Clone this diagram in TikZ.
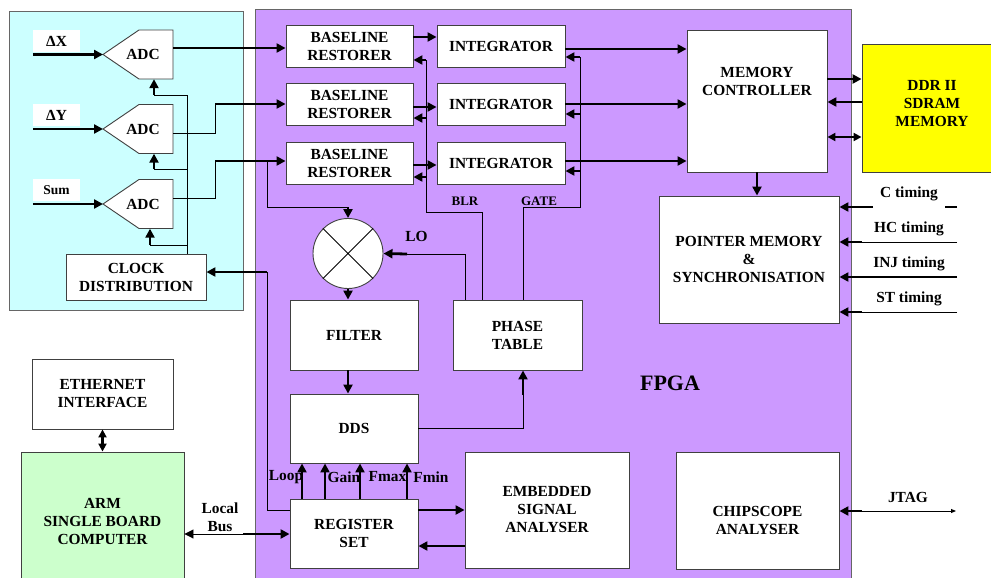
\documentclass[tikz,border=0pt]{standalone}
\usepackage{fontspec}
\setmainfont{Liberation Serif}
\usetikzlibrary{arrows.meta,calc}
\definecolor{cyanbg}{RGB}{204,255,255}
\definecolor{fpgabg}{RGB}{204,153,255}
\definecolor{armbg}{RGB}{204,255,204}
\definecolor{ddrbg}{RGB}{255,255,0}
\begin{document}
\begin{tikzpicture}[x=1pt,y=-1pt,
  bf/.style={font=\bfseries\fontsize{15.4}{18}\selectfont},
  sm/.style={font=\bfseries\fontsize{13}{15}\selectfont,inner sep=0pt},
  blk/.style={bf,draw=black!75,line width=0.9pt,fill=white,align=center,inner sep=0pt},
  txt/.style={bf,align=center,inner sep=0pt},
  thk/.style={line width=2.8pt},
  thn/.style={line width=0.9pt},
  tip/.style={-{Triangle[length=9pt,width=9pt]}},
  tipr/.style={{Triangle[length=9pt,width=9pt]}-},
  tipb/.style={{Triangle[length=8pt,width=8pt]}-{Triangle[length=8pt,width=8pt]}},
]
\useasboundingbox (0,0) rectangle (991,578);

% panels
\draw[fill=cyanbg,draw=black!60,line width=0.9pt] (9,11) rectangle (243,310);
\draw[fill=fpgabg,draw=black!60,line width=0.9pt] (255,9) rectangle (851,600);

% ADCs
\foreach \n/\y in {1/54.5,2/129,3/204}{
  \draw[fill=white,draw=black!75,line width=0.9pt] (103,\y) -- (139,\y-24.5) -- (173,\y-24.5) -- (173,\y+24.5) -- (139,\y+24.5) -- cycle;
  \node[txt,minimum width=60,minimum height=49] (adc\n) at (143,\y) {ADC};
  \coordinate (tip\n) at (103,\y);
}

% input labels
\node[txt,fill=white,minimum width=47,minimum height=22] (inX) at (56.5,41) {ΔX};
\node[txt,fill=white,minimum width=47,minimum height=22] (inY) at (56.5,115) {ΔY};
\node[txt,fill=white,minimum width=47,minimum height=22,font=\bfseries\fontsize{13.5}{15}\selectfont] (inS) at (56.5,190) {Sum};
\draw[thk,tip] (inX.south west |- tip1) -- (tip1);
\draw[thk,tip] (inY.south west |- tip2) -- (tip2);
\draw[thk,tip] (inS.south west |- tip3) -- (tip3);

% blocks
\node[blk,minimum width=140,minimum height=46] (clk) at (136,277) {CLOCK\\DISTRIBUTION};
\foreach \n/\y in {1/46,2/104,3/163}{
  \node[blk,minimum width=127,minimum height=42] (br\n) at (349.5,\y) {BASELINE\\RESTORER};
  \node[blk,minimum width=128,minimum height=42] (int\n) at (501,\y) {INTEGRATOR};
}
\node[blk,minimum width=140,minimum height=142] (mc) at (757,101) {};
\node[txt] (mct) at (757,81) {MEMORY\\CONTROLLER};
\node[draw=black!75,line width=0.9pt,fill=ddrbg,minimum width=140,minimum height=128,inner sep=0pt] (ddr) at (932,108) {};
\node[txt] (ddrt) at (932,104) {DDR II\\SDRAM\\MEMORY};
\node[blk,minimum width=180,minimum height=127] (pm) at (749,259.5) {POINTER MEMORY\\\&\\SYNCHRONISATION};
\node[draw=black!75,line width=0.9pt,fill=white,circle,minimum size=70,inner sep=0pt] (mix) at (348,253.5) {};
\draw[thn] (mix.north west) -- (mix.south east) (mix.north east) -- (mix.south west);
\node[blk,minimum width=128,minimum height=70] (flt) at (354,335) {FILTER};
\node[blk,minimum width=129,minimum height=70] (pt) at (517.5,335) {PHASE\\TABLE};
\node[blk,minimum width=128,minimum height=69] (dds) at (354,428.5) {DDS};
\node[blk,minimum width=128,minimum height=69] (reg) at (354,533.5) {REGISTER\\SET};
\node[blk,minimum width=164,minimum height=116] (emb) at (547,510) {EMBEDDED\\SIGNAL\\ANALYSER};
\node[blk,minimum width=163,minimum height=117] (cs) at (757.5,510.5) {};
\node[txt] (cst) at (757.5,520) {CHIPSCOPE\\ANALYSER};
\node[blk,minimum width=141,minimum height=70] (eth) at (102.5,394) {ETHERNET\\INTERFACE};
\node[blk,fill=armbg,minimum width=163,minimum height=138] (arm) at (102.5,521) {ARM\\SINGLE BOARD\\COMPUTER};
\node[txt,font=\bfseries\fontsize{22}{26}\selectfont] (fpga) at (670,383) {FPGA};

% clock distribution lines
\coordinate (cb) at (187,95);
\coordinate (c1) at (154,95);
\coordinate (c2) at (154,169);
\coordinate (c3) at (150,245);
\draw[thn] (clk.north -| cb) -- (cb) -- (c1);
\draw[thn] (c2 -| cb) -- (c2);
\draw[thn] (c3 -| cb) -- (c3);
\draw[thk,tip] (c1) -- (c1 |- adc1.south);
\draw[thk,tip] (c2) -- (c2 |- adc2.south);
\draw[thk,tip] (c3) -- (c3 |- adc3.south);

% ADC -> baseline restorers
\coordinate (a1) at (173,48);
\draw[thk,tip] (a1) -- (a1 -| br1.west);
\coordinate (j2) at (215,104);
\draw[thn] ($(adc2.east)+(0,4)$) -| (j2);
\draw[thk,tip] (j2) -- (j2 -| br2.west);
\coordinate (j3) at (215,161);
\draw[thn] ($(adc3.east)+(0,-6)$) -| (j3);
\draw[thk,tip] (j3) -- (j3 -| br3.west);

% branch to mixer
\coordinate (sp) at (267,161);
\coordinate (mj) at (348,207);
\draw[thn] (sp) |- (mj);
\draw[thk,tip] (mj) -- (mix.north);

% BR -> integrators
\path (br1.east) ++(0,-9) coordinate (bi1);
\path (br2.east) ++(0,3) coordinate (bi2);
\path (br3.east) ++(0,2) coordinate (bi3);
\draw[thk,tip] (bi1) -- (bi1 -| int1.west);
\draw[thk,tip] (bi2) -- (bi2 -| int2.west);
\draw[thk,tip] (bi3) -- (bi3 -| int3.west);

% BLR line
\coordinate (bl) at (426,212);
\coordinate (b1) at (426,60);
\coordinate (b2) at (426,118);
\coordinate (b3) at (426,177);
\draw[thn] ($(pt.north)+(-35.5,0)$) |- (bl) -- (b1);
\draw[thk,tip] (b1) -- (b1 -| br1.east);
\draw[thk,tip] (b2) -- (b2 -| br2.east);
\draw[thk,tip] (b3) -- (b3 -| br3.east);
\node[sm] (blr) at (465,201) {BLR};

% GATE line
\coordinate (gl) at (580,207);
\coordinate (g1) at (580,57);
\coordinate (g2) at (580,114);
\coordinate (g3) at (580,171);
\draw[thn] ($(pt.north)+(5.5,0)$) |- (gl) -- (g1);
\draw[thk,tip] (g1) -- (g1 -| int1.east);
\draw[thk,tip] (g2) -- (g2 -| int2.east);
\draw[thk,tip] (g3) -- (g3 -| int3.east);
\node[sm] (gate) at (539,201) {GATE};

% integrators -> memory controller
\path (int1.east) ++(0,3) coordinate (o1);
\path (int2.east) ++(0,0) coordinate (o2);
\path (int3.east) ++(0,-2) coordinate (o3);
\draw[thk,tip] (o1) -- (o1 -| mc.west);
\draw[thk,tip] (o2) -- (o2 -| mc.west);
\draw[thk,tip] (o3) -- (o3 -| mc.west);

% memory controller <-> DDR
\path (mc.east) ++(0,-22) coordinate (m1);
\path (mc.east) ++(0,1) coordinate (m2);
\path (mc.east) ++(0,36) coordinate (m3);
\draw[thk,tip] (m1) -- (m1 -| ddr.west);
\draw[thk,tipr] (m2) -- (m2 -| ddr.west);
\draw[thk,tipb] (m3) -- (m3 -| ddr.west);
\draw[thk,tip] (mc.south) -- (mc.south |- pm.north);

% timing inputs
\coordinate (tC) at (957,207); \coordinate (eC) at (945,207); \coordinate (sC) at (873,207);
\coordinate (tH) at (957,242); \coordinate (sH) at (862,242);
\coordinate (tI) at (957,277);
\coordinate (tS) at (957,312); \coordinate (sS) at (862,312);
\draw[thk] (tC) -- (eC);
\draw[thk,tip] (sC) -- (sC -| pm.east);
\draw[thn] (tH) -- (sH);
\draw[thk,tip] (sH) -- (sH -| pm.east);
\draw[thk,tip] (tI) -- (tI -| pm.east);
\draw[thn] (tS) -- (sS);
\draw[thk,tip] (sS) -- (sS -| pm.east);
\node[txt] (lC) at (909,194) {C timing};
\node[txt] (lH) at (909,229) {HC timing};
\node[txt] (lI) at (909,264) {INJ timing};
\node[txt] (lS) at (909,299) {ST timing};

% LO
\coordinate (lo) at (465,254);
\coordinate (lo2) at (407,254);
\draw[thn] (pt.north -| lo) -- (lo) -- (lo2);
\draw[thk,tip] (lo2) -- (mix.east);
\node[txt] (lol) at (416.5,236) {LO};

% signal chain
\draw[thk,tip] (mix.south) -- (mix.south |- flt.north);
\draw[thk,tip] (flt.south -| mix.south) -- (mix.south |- dds.north);
\coordinate (dp) at (523,395);
\draw[thn] (dds.east) -| (dp);
\draw[thk,tip] (dp) -- (dp |- pt.south);

% register set -> DDS
\node[txt] (lLoop) at (286,477) {Loop};
\node[txt] (lGain) at (344,477) {Gain};
\node[txt] (lFmax) at (387.5,477) {Fmax};
\node[txt] (lFmin) at (431,477) {Fmin};
\foreach \dx in {-52,-29,6,53}{
  \draw[thk,tip] ($(reg.north)+(\dx,0)$) -- ($(dds.south)+(\dx,0)$);
}

% register set <-> embedded analyser
\path (reg.east) ++(0,-23.5) coordinate (r1);
\path (reg.east) ++(0,12.5) coordinate (r2);
\draw[thk,tip] (r1) -- (r1 -| emb.west);
\draw[thk,tip] (r2 -| emb.west) -- (r2);

% register set -> clock distribution
\path (reg.west) ++(0,-23.5) coordinate (r0);
\coordinate (rk) at (267,272);
\draw[thn] (r0) -| (rk);
\draw[thk,tip] (rk) -- (rk -| clk.east);

% local bus
\coordinate (lb) at (243,534);
\draw[thn,tip] (lb) -- (lb -| arm.east);
\draw[thk,tip] (lb) -- (lb -| reg.west);
\node[txt] (lbus) at (220,517.5) {Local\\Bus};

% ethernet <-> ARM
\draw[thk,tipb] (eth.south) -- (arm.north);

% JTAG
\coordinate (jt) at (956,511);
\coordinate (js) at (862,511);
\draw[thn,-{Triangle[length=5pt,width=4pt]}] (js) -- (jt);
\draw[thk,tip] (js) -- (js -| cs.east);
\node[txt] (ljtag) at (908,497) {JTAG};
\end{tikzpicture}
\end{document}
